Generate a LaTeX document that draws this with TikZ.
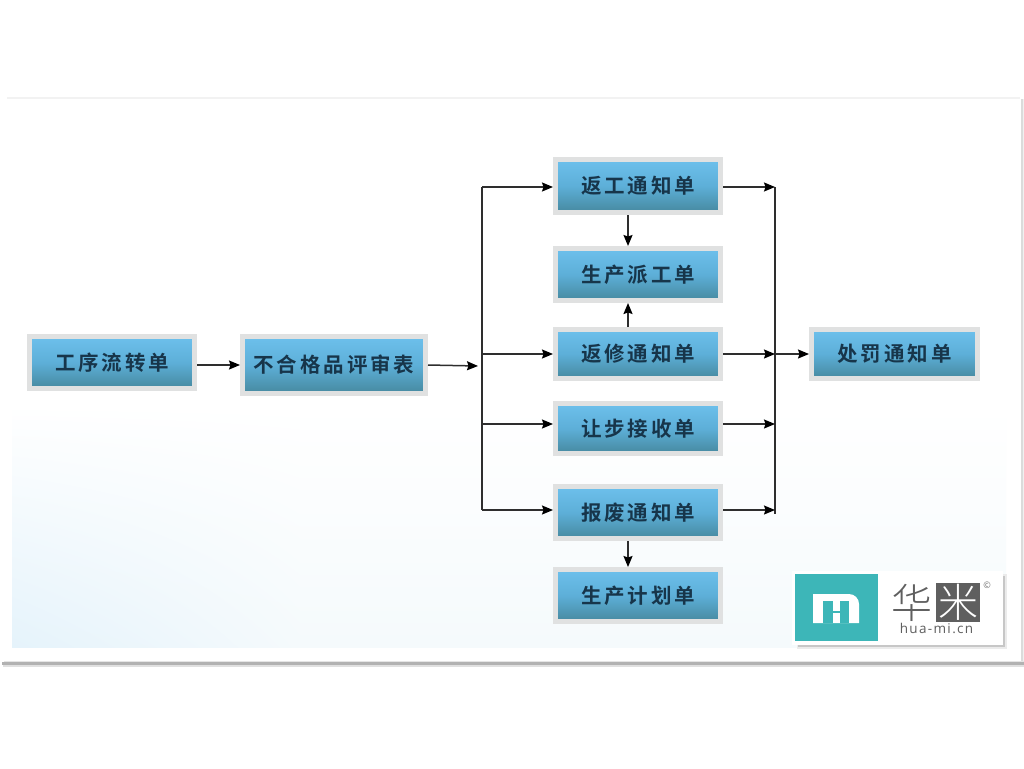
\documentclass[tikz,border=0pt]{standalone}
\usepackage{fontspec}
\usetikzlibrary{arrows.meta,calc,shadings}
\setmainfont{Open Sans}
\newfontfamily\cjkb[LetterSpace=14]{Noto Sans CJK SC Bold}
\newfontfamily\cjkl{Noto Sans CJK SC Light}
\definecolor{boxedge}{HTML}{E0E1E1}
\definecolor{boxtop}{HTML}{6DC0EC}
\definecolor{boxmid}{HTML}{5DAFD8}
\definecolor{boxbot}{HTML}{46899F}
\definecolor{boxtext}{HTML}{17354A}
\definecolor{logoteal}{HTML}{3DB6B8}
\definecolor{logogrey}{HTML}{5F5F5F}
\definecolor{paleblue}{HTML}{E5F3FB}
\definecolor{palemid}{HTML}{F5FAFC}
\definecolor{linecol}{HTML}{2E2E2E}
\tikzset{
  x=1pt,y=-1pt,
  flowbox/.style={rectangle,draw=boxedge,line width=5pt,top color=boxtop,bottom color=boxbot,
    middle color=boxmid,minimum width=165pt,text=boxtext,inner sep=0pt,
    font={\cjkb\fontsize{20.5}{21}\selectfont}},
  link/.style={draw=linecol,line width=1.5pt,-{Stealth[length=11pt,width=9pt,inset=1.5pt,color=black]}},
  plain/.style={draw=linecol,line width=1.6pt},
}
\begin{document}
\begin{tikzpicture}
\useasboundingbox (0,0) rectangle (1024,768);
\fill[white] (0,0) rectangle (1024,768);
% panel with shadow
\fill[black!5] (7,97) rectangle (1020,98.5);
\fill[black!6] (1021,99) rectangle (1024,664);
\fill[black!14] (1021,99) rectangle (1022.5,664);
\fill[black!10] (4,661) rectangle (1024,662);
\fill[black!30] (2,662) rectangle (1024,665);
\fill[black!12] (3,665) rectangle (1024,667);
\fill[white] (8,99) rectangle (1021,661);
\shade[upper left=white,upper right=white,lower left=paleblue,lower right=palemid]
  (12,405) rectangle (300,647);
\shade[upper left=white,upper right=white,lower left=palemid,lower right=palemid]
  (300,405) rectangle (1006,647);
% logo card
\fill[black!8] (797,641) rectangle (1007,649);
\fill[black!8] (1003,574) rectangle (1007,649);
\fill[black!22] (798,645) rectangle (1005,647);
\fill[black!22] (1003,576) rectangle (1005,647);
\fill[white] (792,571) rectangle (1003,645);
\fill[logoteal] (795,574) rectangle (878,641);
\fill[white] (813,623) -- (813,594) -- (849,594) to[out=0,in=90] (859,604) -- (859,623) -- cycle;
\fill[logoteal] (823,601) rectangle (833,623);
\fill[logoteal] (840,601) rectangle (849,623);
\fill[logoteal] (833,611) rectangle (840,613);
\node[font={\cjkl\fontsize{41}{41}\selectfont},text=logogrey,inner sep=0pt] (hua) at (912,603) {华};
\fill[logogrey] (936,583) rectangle (980,622);
\node[font={\cjkl\fontsize{40}{40}\selectfont},text=white,inner sep=0pt] (mi) at (958,602) {米};
\node[font={\addfontfeature{LetterSpace=10}\fontsize{13.5}{14}\selectfont},text=logogrey,inner sep=0pt] (site) at (936.5,628) {hua-mi.cn};
\node[font={\fontsize{9}{9}\selectfont},text=black!55,inner sep=0pt] (copy) at (987,585) {©};
% boxes
\node[flowbox,minimum width=165pt,minimum height=52pt] (a) at (112,362.5) {工序流转单};
\node[flowbox,minimum width=183pt,minimum height=57pt] (b) at (334,365) {不合格品评审表};
\node[flowbox,minimum height=53pt] (r1) at (638,186) {返工通知单};
\node[flowbox,minimum height=52pt] (p1) at (638,274.5) {生产派工单};
\node[flowbox,minimum height=49pt] (r2) at (638,354) {返修通知单};
\node[flowbox,minimum height=50pt] (r3) at (638,428.5) {让步接收单};
\node[flowbox,minimum height=52pt] (r4) at (638,512.5) {报废通知单};
\node[flowbox,minimum height=52pt] (p2) at (638,595.5) {生产计划单};
\node[flowbox,minimum width=166pt,minimum height=49pt] (f) at (894.5,354) {处罚通知单};
% bus points
\coordinate (l0) at (478,366);
\coordinate (l1) at (482,187);
\coordinate (l2) at (482,354);
\coordinate (l3) at (482,424);
\coordinate (l4) at (482,510);
\coordinate (e1) at (775,187);
\coordinate (e2) at (775,354);
\coordinate (e3) at (775,424);
\coordinate (e4) at (775,510);
\coordinate (e5) at (775,514);
\coordinate (c1) at (628,300);
\coordinate (a1) at (112,365);
% connectors
\draw[link] (a1 -| a.east) -- (a1 -| b.west);
\draw[link] (b.east) -- (l0);
\draw[plain] (l1) -- (l4);
\draw[link] (l1) -- (l1 -| r1.west);
\draw[link] (l2) -- (l2 -| r2.west);
\draw[link] (l3) -- (l3 -| r3.west);
\draw[link] (l4) -- (l4 -| r4.west);
\draw[plain] (e1) -- (e5);
\draw[link] (e1 -| r1.east) -- (e1);
\draw[link] (e2 -| r2.east) -- (e2);
\draw[link] (e3 -| r3.east) -- (e3);
\draw[link] (e4 -| r4.east) -- (e4);
\draw[link] (e2) -- (f.west);
\draw[link] (c1 |- r1.south) -- (c1 |- p1.north);
\draw[link] (c1 |- r2.north) -- (c1 |- p1.south);
\draw[link] (c1 |- r4.south) -- (c1 |- p2.north);
\end{tikzpicture}
\end{document}
